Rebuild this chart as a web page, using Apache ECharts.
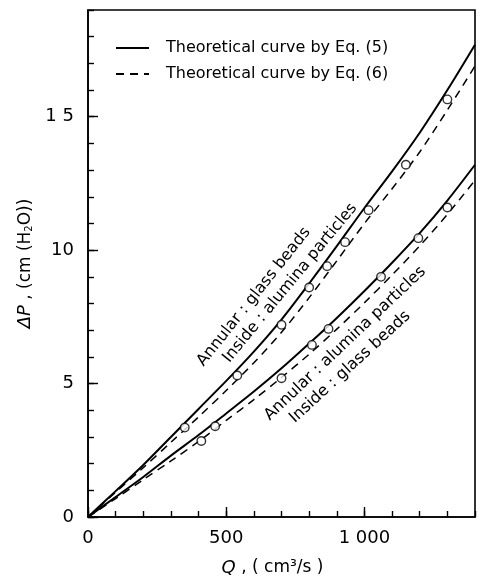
<!DOCTYPE html>
<html>
<head>
<meta charset="utf-8">
<script src="https://cdn.jsdelivr.net/npm/echarts@6/dist/echarts.min.js"></script>
<style>
html,body{margin:0;padding:0;background:#fff;}
#c{width:485px;height:586px;}
</style>
</head>
<body>
<div id="c"></div>
<script>
// ---- data ----
const flowGrid = [0,100,200,300,400,500,600,700,800,900,1000,1100,1200,1300,1400];
// Annular: glass beads / Inside: alumina particles
const upperEq5 = [0,0.97,1.95,3.0,4.05,5.1,6.2,7.4,8.75,10.15,11.58,12.95,14.4,16.0,17.7];
const upperEq6 = [0,0.93,1.85,2.8,3.75,4.74,5.78,6.92,8.22,9.6,11.0,12.3,13.68,15.25,16.9];
const upperObsQ = [350,540,700,800,865,930,1015,1150,1300];
const upperObsP = [3.35,5.3,7.2,8.6,9.4,10.3,11.5,13.2,15.65];
// Annular: alumina particles / Inside: glass beads
const lowerEq5 = [0,0.75,1.5,2.3,3.07,3.88,4.7,5.57,6.5,7.46,8.47,9.53,10.64,11.86,13.2];
const lowerEq6 = [0,0.69,1.4,2.1,2.83,3.62,4.4,5.23,6.1,7.04,8.03,9.07,10.16,11.34,12.62];
const lowerObsQ = [410,460,700,810,870,1060,1195,1300];
const lowerObsP = [2.85,3.4,5.2,6.45,7.05,9.0,10.45,11.6];

const xTickValues = [0,500,1000];
const xTickLabels = ['0','500','1 000'];
const yTickValues = [0,5,10,15];
const yTickLabels = ['0','5','10','1 5'];

const legendNames = ['Theoretical curve by Eq. (5)','Theoretical curve by Eq. (6)'];
const annoTexts = ['Annular : glass beads','Inside : alumina particles','Annular : alumina particles','Inside : glass beads'];
const annoQ = [600,731,930,948];
const annoP = [8.25,8.77,6.5,5.62];
const annoAngle = [51.5,50.5,43.5,42.5];

// ---- build chart ----
const FONT = 'DejaVu Sans';
const pairs = (xs, ys) => xs.map((x,i)=>[x, ys[i]]);
const chart = echarts.init(document.getElementById('c'), null, {renderer:'canvas'});

const solid = {type:'solid', width:2, color:'#000'};
const dashed = {type:[8,6], width:1.5, color:'#000'};

const option = {
  animation:false,
  backgroundColor:'#fff',
  grid:{left:88, right:10, top:10, bottom:69, show:true, borderColor:'#000', borderWidth:1.6, backgroundColor:'transparent'},
  legend:{
    data:legendNames, orient:'vertical', left:110, top:35,
    itemWidth:33, itemHeight:14, itemGap:10,
    itemStyle:{opacity:0},
    textStyle:{fontFamily:FONT, fontSize:16, color:'#000', padding:[0,0,0,12], lineHeight:16},
    selectedMode:false
  },
  xAxis:[
    {type:'value', min:0, max:1400, interval:100, gridIndex:0,
     axisLine:{show:true, lineStyle:{color:'#000', width:1.6}},
     axisTick:{show:true, inside:true, length:6, lineStyle:{color:'#000', width:1.4}},
     axisLabel:{show:false}, splitLine:{show:false}},
    {type:'value', min:0, max:1400, interval:500, gridIndex:0, position:'bottom',
     axisLine:{show:false},
     axisTick:{show:true, inside:true, length:10, lineStyle:{color:'#000', width:1.4}},
     axisLabel:{show:true, margin:12, showMaxLabel:false, fontFamily:FONT, fontSize:18, color:'#000',
       formatter:v=>{const i=xTickValues.indexOf(v); return i>=0?xTickLabels[i]:'';}},
     splitLine:{show:false},
     name:'{i|Q} , ( cm³/s )', nameLocation:'middle', nameGap:42,
     nameTextStyle:{fontFamily:FONT, fontSize:17, color:'#000', padding:[0,18,0,0], rich:{i:{fontStyle:'italic', fontFamily:FONT, fontSize:18}}}}
  ],
  yAxis:[
    {type:'value', min:0, max:19, interval:1, gridIndex:0,
     axisLine:{show:true, lineStyle:{color:'#000', width:1.6}},
     axisTick:{show:true, inside:true, length:6, lineStyle:{color:'#000', width:1.4}},
     axisLabel:{show:false}, splitLine:{show:false}},
    {type:'value', min:0, max:19, interval:5, gridIndex:0, position:'left',
     axisLine:{show:false},
     axisTick:{show:true, inside:true, length:10, lineStyle:{color:'#000', width:1.4}},
     axisLabel:{show:true, margin:14, showMaxLabel:false, fontFamily:FONT, fontSize:18, color:'#000',
       formatter:v=>{const i=yTickValues.indexOf(v); return i>=0?yTickLabels[i]:'';}},
     splitLine:{show:false},
     name:'{i|ΔP} , (cm (H{s|2}O))', nameLocation:'middle', nameGap:35, nameRotate:90,
     nameTextStyle:{fontFamily:FONT, fontSize:17, color:'#000',
       rich:{i:{fontStyle:'italic', fontFamily:FONT, fontSize:18}, s:{fontFamily:FONT, fontSize:10, verticalAlign:'bottom', padding:[8,0,0,0]}}}}
  ],
  series:[
    {name:legendNames[0], type:'line', data:pairs(flowGrid, upperEq5), smooth:0.3, symbol:'none', lineStyle:solid, itemStyle:{color:'#000'}, z:3},
    {name:legendNames[1], type:'line', data:pairs(flowGrid, upperEq6), smooth:0.3, symbol:'none', lineStyle:dashed, itemStyle:{color:'#000'}, z:3},
    {name:legendNames[0], type:'line', data:pairs(flowGrid, lowerEq5), smooth:0.3, symbol:'none', lineStyle:solid, itemStyle:{color:'#000'}, z:3},
    {name:legendNames[1], type:'line', data:pairs(flowGrid, lowerEq6), smooth:0.3, symbol:'none', lineStyle:dashed, itemStyle:{color:'#000'}, z:3},
    {name:'obs upper', type:'scatter', data:pairs(upperObsQ, upperObsP), symbol:'circle', symbolSize:8.5,
     itemStyle:{color:'#fff', borderColor:'#000', borderWidth:1.4}, z:5},
    {name:'obs lower', type:'scatter', data:pairs(lowerObsQ, lowerObsP), symbol:'circle', symbolSize:8.5,
     itemStyle:{color:'#fff', borderColor:'#000', borderWidth:1.4}, z:5}
  ]
};
chart.setOption(option);

const graphics = annoTexts.map((t,i)=>{
  const p = chart.convertToPixel({gridIndex:0}, [annoQ[i], annoP[i]]);
  return {type:'text', x:p[0], y:p[1], rotation:annoAngle[i]*Math.PI/180, z:10,
    style:{text:t, fontFamily:FONT, fontSize:16, fill:'#000', align:'center', verticalAlign:'middle'}};
});
chart.setOption({graphic:graphics});
</script>
</body>
</html>
